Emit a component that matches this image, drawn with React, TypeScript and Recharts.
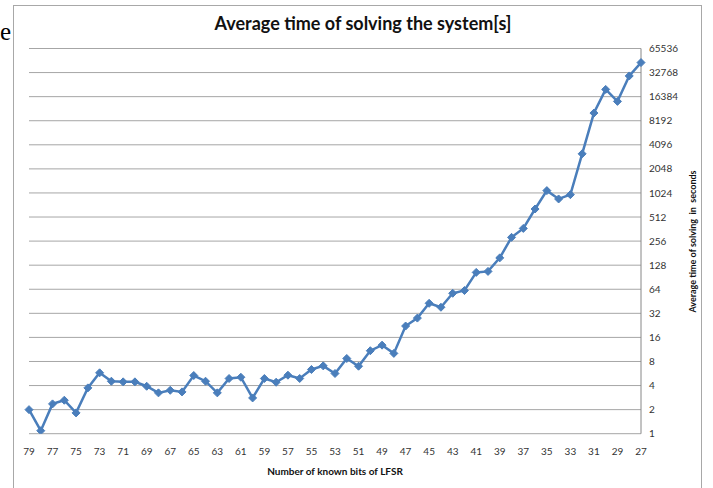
import { CartesianGrid, Line, LineChart, XAxis, YAxis } from 'recharts'

const KNOWN_BITS = [
  79, 78, 77, 76, 75, 74, 73, 72, 71, 70,
  69, 68, 67, 66, 65, 64, 63, 62, 61, 60,
  59, 58, 57, 56, 55, 54, 53, 52, 51, 50,
  49, 48, 47, 46, 45, 44, 43, 42, 41, 40,
  39, 38, 37, 36, 35, 34, 33, 32, 31, 30,
  29, 28, 27,
]

// average solve time in seconds
const SOLVE_TIME = [
  2.0, 1.09, 2.36, 2.62, 1.82, 3.74, 5.77, 4.53, 4.45, 4.45,
  3.92, 3.24, 3.49, 3.33, 5.34, 4.53, 3.24, 4.9, 5.08, 2.8,
  4.9, 4.4, 5.39, 4.9, 6.35, 7.05, 5.66, 8.72, 6.98, 10.9,
  12.8, 10.1, 22.2, 27.9, 42.7, 38.1, 57, 61.7, 104, 107,
  158, 285, 369, 645, 1095, 861, 975, 3160, 10220, 20190,
  14300, 29740, 43700,
]

const Y_TICKS = [1, 2, 4, 8, 16, 32, 64, 128, 256, 512, 1024, 2048, 4096, 8192, 16384, 32768, 65536]

const data = KNOWN_BITS.map((bits, i) => ({ bits: String(bits), time: SOLVE_TIME[i] }))

const BLUE = '#4a7ebb'
const FONT = 'Lato, "Liberation Sans", sans-serif'

function Diamond(props: any) {
  const { cx, cy, index } = props
  if (cx == null || cy == null) return null
  const r = 4
  return (
    <polygon
      key={`d-${index}`}
      points={`${cx},${cy - r} ${cx + r},${cy} ${cx},${cy + r} ${cx - r},${cy}`}
      fill={BLUE}
      stroke={BLUE}
      strokeWidth={1}
    />
  )
}

export default function App() {
  return (
    <div
      style={{
        position: 'absolute',
        left: 0,
        top: 0,
        width: 713,
        height: 488,
        background: '#fff',
        overflow: 'hidden',
        fontFamily: FONT,
      }}
    >
      {/* stray letter of the surrounding document */}
      <div
        style={{
          position: 'absolute',
          left: 0,
          top: 17,
          fontFamily: '"Liberation Serif", serif',
          fontSize: 25,
          lineHeight: '30px',
          color: '#000',
        }}
      >
        e
      </div>
      <div
        style={{
          position: 'absolute',
          left: 13,
          top: 5,
          width: 689,
          height: 500,
          border: '1px solid #a8a8a8',
          boxSizing: 'border-box',
        }}
      />
      <div
        style={{
          position: 'absolute',
          left: 13,
          width: 700,
          top: 12,
          textAlign: 'center',
          fontWeight: 700,
          fontSize: 18,
          color: '#111',
        }}
      >
        Average time of solving the system[s]
      </div>
      <div style={{ position: 'absolute', left: 0, top: 0 }}>
        <LineChart
          width={713}
          height={488}
          data={data}
          margin={{ top: 48.5, right: 0, bottom: 0, left: 29 }}
        >
          <CartesianGrid vertical={false} stroke="#a6a6a6" strokeWidth={1} />
          <XAxis
            dataKey="bits"
            interval={1}
            height={54.3}
            axisLine={false}
            tickLine={false}
            tickMargin={8}
            tick={{ fill: '#333', fontSize: 10, fontFamily: FONT }}
          />
          <YAxis
            orientation="right"
            width={72}
            scale="log"
            domain={[1, 65536]}
            ticks={Y_TICKS}
            allowDataOverflow
            interval={0}
            axisLine={{ stroke: '#868686' }}
            tickLine={false}
            tick={{ fill: '#333', fontSize: 10, fontFamily: FONT }}
          />
          <Line
            type="linear"
            dataKey="time"
            stroke={BLUE}
            strokeWidth={2.5}
            dot={<Diamond />}
            activeDot={false}
            isAnimationActive={false}
          />
        </LineChart>
      </div>
      <div
        style={{
          position: 'absolute',
          left: 235,
          width: 200,
          top: 465,
          textAlign: 'center',
          fontWeight: 700,
          fontSize: 10,
          color: '#111',
        }}
      >
        Number of known bits of LFSR
      </div>
      <div
        style={{
          position: 'absolute',
          left: 692,
          top: 242,
          width: 0,
          height: 0,
        }}
      >
        <div
          style={{
            position: 'absolute',
            left: -100,
            top: -6,
            width: 200,
            textAlign: 'center',
            transform: 'rotate(-90deg)',
            fontWeight: 700,
            fontSize: 9,
            color: '#111',
            whiteSpace: 'pre',
          }}
        >
          {'Average time of solving  in  seconds'}
        </div>
      </div>
    </div>
  )
}
